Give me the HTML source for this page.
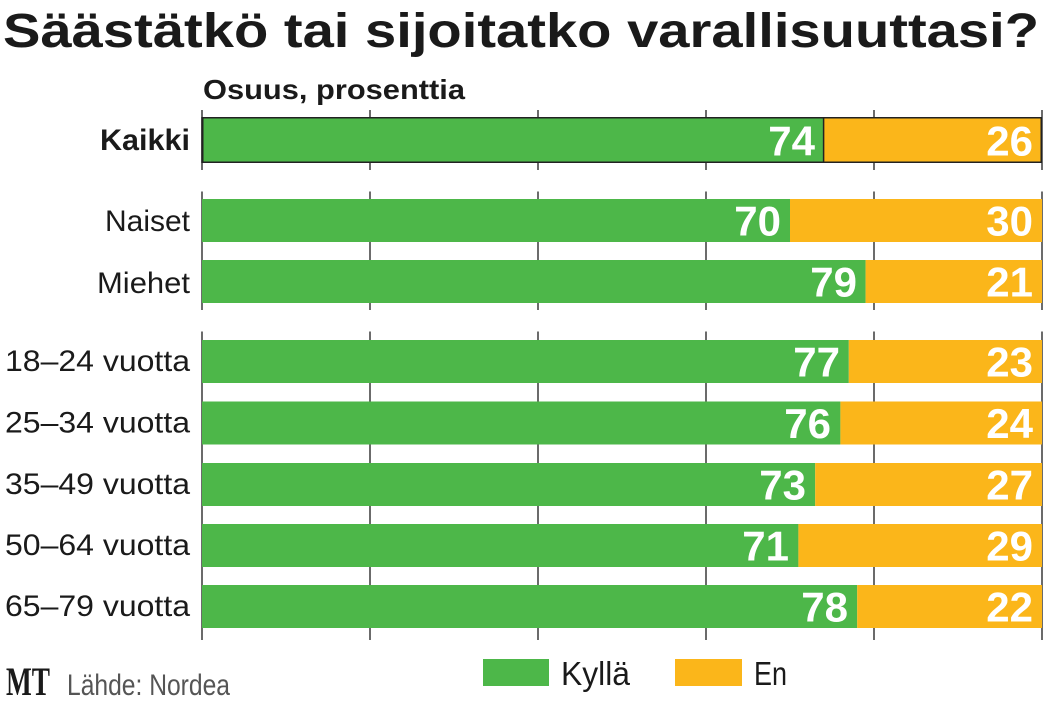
<!DOCTYPE html>
<html><head><meta charset="utf-8"><style>
html,body{margin:0;padding:0;background:#fff;}
svg{display:block;}
</style></head><body>
<svg width="1046" height="702" viewBox="0 0 1046 702" xmlns="http://www.w3.org/2000/svg" font-family="Liberation Sans, sans-serif">
<rect width="1046" height="702" fill="#fff"/>
<text x="3" y="47" font-size="48" font-weight="bold" fill="#1a1a1a" textLength="1036" lengthAdjust="spacingAndGlyphs">Säästätkö tai sijoitatko varallisuuttasi?</text>
<text x="203" y="99" font-size="28" font-weight="bold" fill="#1a1a1a" textLength="262" lengthAdjust="spacingAndGlyphs">Osuus, prosenttia</text>
<g stroke="#3a3a3a" stroke-width="1.5">
<line x1="202" y1="110" x2="202" y2="170"/><line x1="370" y1="110" x2="370" y2="170"/><line x1="538" y1="110" x2="538" y2="170"/><line x1="706" y1="110" x2="706" y2="170"/><line x1="874" y1="110" x2="874" y2="170"/><line x1="1042" y1="110" x2="1042" y2="170"/>
<line x1="202" y1="191.5" x2="202" y2="310"/><line x1="370" y1="191.5" x2="370" y2="310"/><line x1="538" y1="191.5" x2="538" y2="310"/><line x1="706" y1="191.5" x2="706" y2="310"/><line x1="874" y1="191.5" x2="874" y2="310"/><line x1="1042" y1="191.5" x2="1042" y2="310"/>
<line x1="202" y1="331.5" x2="202" y2="640"/><line x1="370" y1="331.5" x2="370" y2="640"/><line x1="538" y1="331.5" x2="538" y2="640"/><line x1="706" y1="331.5" x2="706" y2="640"/><line x1="874" y1="331.5" x2="874" y2="640"/><line x1="1042" y1="331.5" x2="1042" y2="640"/>
</g>
<!-- Kaikki -->
<rect x="202" y="117" width="621.6" height="46" fill="#4db749"/>
<rect x="823.6" y="117" width="218.4" height="46" fill="#fbb61a"/>
<rect x="202.75" y="117.75" width="838.5" height="44.5" fill="none" stroke="#222" stroke-width="1.5"/>
<line x1="823.6" y1="117" x2="823.6" y2="163" stroke="#222" stroke-width="1.5"/>
<!-- other bars -->
<g>
<rect x="202" y="199" width="588" height="43" fill="#4db749"/><rect x="790" y="199" width="252" height="43" fill="#fbb61a"/>
<rect x="202" y="260" width="663.6" height="43" fill="#4db749"/><rect x="865.6" y="260" width="176.4" height="43" fill="#fbb61a"/>
<rect x="202" y="340" width="646.8" height="43" fill="#4db749"/><rect x="848.8" y="340" width="193.2" height="43" fill="#fbb61a"/>
<rect x="202" y="401.5" width="638.4" height="43" fill="#4db749"/><rect x="840.4" y="401.5" width="201.6" height="43" fill="#fbb61a"/>
<rect x="202" y="463" width="613.2" height="43" fill="#4db749"/><rect x="815.2" y="463" width="226.8" height="43" fill="#fbb61a"/>
<rect x="202" y="524" width="596.4" height="43" fill="#4db749"/><rect x="798.4" y="524" width="243.6" height="43" fill="#fbb61a"/>
<rect x="202" y="585" width="655.2" height="43" fill="#4db749"/><rect x="857.2" y="585" width="184.8" height="43" fill="#fbb61a"/>
</g>
<line x1="202" y1="117" x2="202" y2="163" stroke="#222" stroke-width="1.5"/>
<!-- labels -->
<g font-size="30" fill="#1a1a1a" text-anchor="end">
<text x="190" y="150" font-weight="bold" textLength="90" lengthAdjust="spacingAndGlyphs">Kaikki</text>
<text x="190" y="231" textLength="85" lengthAdjust="spacingAndGlyphs">Naiset</text>
<text x="190" y="293" textLength="93" lengthAdjust="spacingAndGlyphs">Miehet</text>
<text x="190" y="371" textLength="185" lengthAdjust="spacingAndGlyphs">18–24 vuotta</text>
<text x="190" y="432.5" textLength="185" lengthAdjust="spacingAndGlyphs">25–34 vuotta</text>
<text x="190" y="494" textLength="185" lengthAdjust="spacingAndGlyphs">35–49 vuotta</text>
<text x="190" y="555" textLength="185" lengthAdjust="spacingAndGlyphs">50–64 vuotta</text>
<text x="190" y="616" textLength="185" lengthAdjust="spacingAndGlyphs">65–79 vuotta</text>
</g>
<!-- values -->
<g font-size="42" font-weight="bold" fill="#fff" text-anchor="end">
<text x="815" y="155.5">74</text><text x="1033" y="155.5">26</text>
<text x="781" y="235.5">70</text><text x="1033" y="235.5">30</text>
<text x="857" y="296.5">79</text><text x="1033" y="296.5">21</text>
<text x="840" y="376.5">77</text><text x="1033" y="376.5">23</text>
<text x="831" y="438">76</text><text x="1033" y="438">24</text>
<text x="806" y="499.5">73</text><text x="1033" y="499.5">27</text>
<text x="789" y="560.5">71</text><text x="1033" y="560.5">29</text>
<text x="848" y="621.5">78</text><text x="1033" y="621.5">22</text>
</g>
<!-- footer -->
<text x="6" y="695" font-family="Liberation Serif, serif" font-size="40" font-weight="bold" fill="#1a1a1a" textLength="44" lengthAdjust="spacingAndGlyphs">MT</text>
<text x="67" y="695" font-size="30" fill="#555" textLength="163" lengthAdjust="spacingAndGlyphs">Lähde: Nordea</text>
<rect x="483" y="659" width="66" height="27" fill="#4db749"/>
<text x="561" y="685" font-size="33" fill="#1a1a1a" textLength="69" lengthAdjust="spacingAndGlyphs">Kyllä</text>
<rect x="675" y="659" width="67" height="27" fill="#fbb61a"/>
<text x="754" y="685" font-size="33" fill="#1a1a1a" textLength="33" lengthAdjust="spacingAndGlyphs">En</text>
</svg>
</body></html>
